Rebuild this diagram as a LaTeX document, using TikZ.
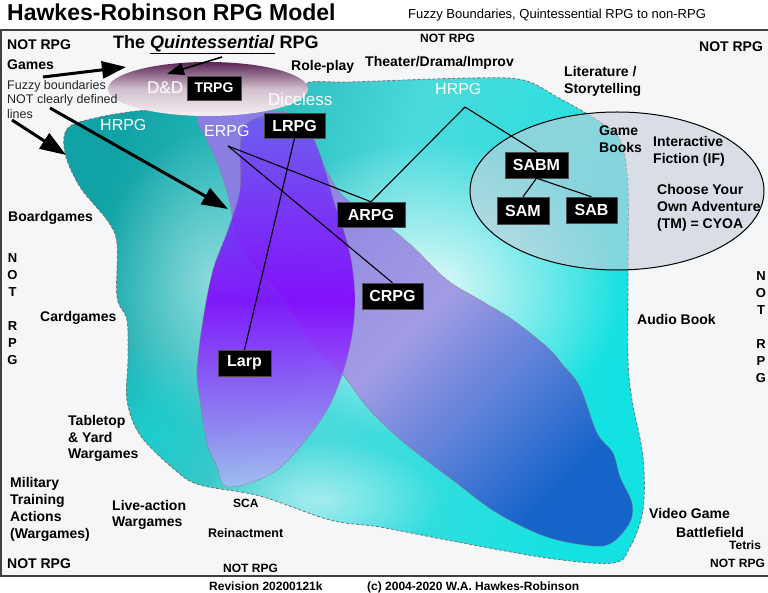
\documentclass[tikz,border=0pt]{standalone}
\usepackage{fontspec}
\setmainfont{Liberation Sans}
\usetikzlibrary{arrows.meta,fadings}
\tikzfading[name=softspot, inner color=transparent!0, outer color=transparent!100]
\newcommand\myfs[1]{\fontsize{#1}{#1}\selectfont}
\definecolor{bgc}{HTML}{F5F6F8}
\definecolor{cyL}{HTML}{10A2A4}
\definecolor{cyM}{HTML}{4CDADC}
\definecolor{cyR}{HTML}{12E2E2}
\definecolor{aT}{HTML}{8A7EE2}
\definecolor{aM}{HTML}{A29CE4}
\definecolor{aB}{HTML}{1464CA}
\definecolor{lT}{HTML}{6A5CF0}
\definecolor{lM}{HTML}{8000FF}
\definecolor{lB}{HTML}{A9BDF2}
\definecolor{dd1}{HTML}{5A2454}
\definecolor{dd2}{HTML}{D2C0CE}
\definecolor{dd3}{HTML}{F4F1F2}
\definecolor{ifc}{HTML}{C7CFDB}
\begin{document}
\begin{tikzpicture}[x=1pt,y=-1pt,
  lbl/.style={anchor=base west, inner sep=0pt, font=\bfseries\myfs{14}},
  slbl/.style={anchor=base west, inner sep=0pt, font=\bfseries\myfs{12}},
  mlbl/.style={anchor=west, align=left, inner sep=0pt, font=\bfseries\fontsize{14}{17}\selectfont},
  wlbl/.style={anchor=base west, inner sep=0pt, text=white, font=\myfs{16}},
  box/.style={fill=black, draw=black!70, text=white, inner sep=0pt, font=\bfseries\myfs{16}},
  conn/.style={black, line width=1.1pt},
  bigarrow/.style={line width=3pt, -{Triangle[length=26pt,width=18pt]}},
  vert/.style={align=center, inner sep=0pt, font=\bfseries\fontsize{13}{17}\selectfont}
]
\useasboundingbox (0,0) rectangle (768,593);
\fill[white] (0,0) rectangle (768,593);
% frame
\fill[bgc] (1,30) rectangle (768,576);
\draw[black!75, line width=1.6pt] (768,30) -- (1,30) -- (1,576) -- (768,576);

% big cyan blob (HRPG)
\def\cyanblob{plot[smooth cycle, tension=0.55] coordinates {
  (68,128) (100,117) (150,110) (183,115) (250,113) (290,103) (307,83) (350,82)
  (470,78) (523,80) (557,97) (597,120) (620,140) (628,187) (628,280) (628,360)
  (632,400) (643,457) (643,510) (630,547) (613,563) (547,558) (447,540) (380,527)
  (330,520) (260,496) (200,485) (175,470) (140,435) (127,400) (128,360) (127,320)
  (117,297) (117,243) (107,220) (80,187) (65,153)}}
\path[top color=cyL, bottom color=cyR, middle color=cyM, shading angle=72] \cyanblob;
\begin{scope}
  \clip \cyanblob;
  \fill[white, fill opacity=0.85, path fading=softspot] (430,290) ellipse [x radius=190pt, y radius=150pt];
  \fill[white, fill opacity=0.45, path fading=softspot] (210,280) ellipse [x radius=110pt, y radius=150pt];
  \fill[white, fill opacity=0.5, path fading=softspot] (320,500) ellipse [x radius=120pt, y radius=60pt];
  \fill[cyR, fill opacity=0.5, path fading=softspot] (150,430) ellipse [x radius=70pt, y radius=90pt];
\end{scope}
\draw[black!55, densely dashed, line width=0.8pt] \cyanblob;

% diagonal shape (ERPG / ARPG / CRPG / video games)
\path[draw=black!50, densely dotted, line width=0.7pt,
      top color=aT, bottom color=aB, middle color=aM, shading angle=45]
  plot[smooth cycle, tension=0.55] coordinates {
  (197,120) (207,108) (227,112) (260,110) (305,118) (317,150) (327,172) (345,198)
  (380,220) (413,247) (447,280) (480,300) (513,320) (547,347) (563,365) (580,387)
  (597,433) (613,453) (620,477) (632,503) (630,522) (613,542) (593,546) (547,537)
  (497,513) (450,478) (417,453) (393,433) (367,407) (343,375) (317,350) (280,293)
  (250,260) (235,230) (230,203) (220,170) (207,140)};

% larp shape
\path[draw=black!50, densely dotted, line width=0.7pt, fill opacity=0.88,
      top color=lT, bottom color=lB, middle color=lM]
  plot[smooth cycle, tension=0.55] coordinates {
  (245,125) (270,115) (300,120) (315,142) (325,170) (335,205) (345,235) (352,265)
  (355,300) (352,335) (343,372) (327,410) (300,447) (277,470) (250,483) (225,486)
  (217,467) (207,443) (200,400) (197,370) (203,320) (213,270) (228,230) (240,190)
  (240,150)};

% D&D ellipse
\path[top color=dd1, bottom color=dd3, middle color=dd2]
  (208,89) ellipse [x radius=100pt, y radius=27pt];

% IF / CYOA ellipse
\draw[fill=ifc, fill opacity=0.6, line width=1pt] (617,191) ellipse [x radius=147pt, y radius=79pt];

% title texts
\node[anchor=base west, inner sep=0pt, font=\bfseries\myfs{23}] (title) at (7,21) {Hawkes-Robinson RPG Model};
\node[anchor=base west, inner sep=0pt, font=\myfs{13}] (sub) at (408,18.5) {Fuzzy Boundaries, Quintessential RPG to non-RPG};
\node[anchor=base west, inner sep=0pt, font=\bfseries\myfs{18}] (quint) at (113,48.5) {The \underline{\textit{Quintessential}} RPG};

% black labels
\node[lbl] (nrTL) at (7,50) {NOT RPG};
\node[lbl] (games) at (7,70) {Games};
\node[anchor=west, align=left, inner sep=0pt, text=black!85, font=\fontsize{12.5}{14.5}\selectfont] (fuzzy) at (7,99.5) {Fuzzy boundaries\\NOT clearly defined\\lines};
\node[lbl] (role) at (291,71) {Role-play};
\node[lbl] (theater) at (365,67) {Theater/Drama/Improv};
\node[slbl] (nrTC) at (420,42.5) {NOT RPG};
\node[lbl] (nrTR) at (699,52) {NOT RPG};
\node[mlbl] (lit) at (564,81.5) {Literature /\\Storytelling};
\node[mlbl] (gb) at (599,139.5) {Game\\Books};
\node[mlbl] (ifl) at (653,151.5) {Interactive\\Fiction (IF)};
\node[mlbl] (cyoa) at (657,208) {Choose Your\\Own Adventure\\(TM) = CYOA};
\node[lbl] (board) at (8,222) {Boardgames};
\node[lbl] (card) at (40,322) {Cardgames};
\node[lbl] (audio) at (637,325) {Audio Book};
\node[anchor=west, align=left, inner sep=0pt, font=\bfseries\fontsize{14}{16.5}\selectfont] (table) at (68,438.5) {Tabletop\\\& Yard\\Wargames};
\node[mlbl] (mil) at (10,509.5) {Military\\Training\\Actions\\(Wargames)};
\node[anchor=west, align=left, inner sep=0pt, font=\bfseries\fontsize{14}{16.5}\selectfont] (live) at (112,515) {Live-action\\Wargames};
\node[slbl] (sca) at (233,507.5) {SCA};
\node[anchor=base west, inner sep=0pt, font=\bfseries\myfs{12.5}] (rein) at (208,537.5) {Reinactment};
\node[lbl] (nrBL) at (7,568) {NOT RPG};
\node[slbl] (nrBC) at (223,572.5) {NOT RPG};
\node[lbl] (video) at (649,518) {Video Game};
\node[lbl] (battle) at (676,537) {Battlefield};
\node[slbl] (tetris) at (729,549.5) {Tetris};
\node[slbl] (nrBR) at (710,567.5) {NOT RPG};
\node[slbl] (rev) at (209,590.5) {Revision 20200121k};
\node[slbl] (copy) at (367,590.5) {(c) 2004-2020 W.A. Hawkes-Robinson};
\node[vert] (vl) at (12.5,309) {N\\O\\T\\[17pt]R\\P\\G};
\node[vert] (vr) at (761,327.5) {N\\O\\T\\[17pt]R\\P\\G};

% white labels
\node[wlbl, font=\myfs{17}] (dnd) at (147,93.5) {D\&D};
\node[wlbl] (hrpgL) at (100,131) {HRPG};
\node[wlbl] (erpg) at (204,137) {ERPG};
\node[wlbl, font=\myfs{17}] (dice) at (268,106) {Diceless};
\node[wlbl] (hrpgR) at (435,95) {HRPG};

% boxes
\node[box, font=\bfseries\myfs{14}, minimum width=54pt, minimum height=24pt] (TRPG) at (214,88) {TRPG};
\node[box, minimum width=61pt, minimum height=25pt] (LRPG) at (294.5,125.5) {LRPG};
\node[box, minimum width=68pt, minimum height=25pt] (ARPG) at (371,214.5) {ARPG};
\node[box, minimum width=61pt, minimum height=26pt] (CRPG) at (392.5,296) {CRPG};
\node[box, minimum width=53pt, minimum height=26pt] (Larp) at (244.5,363) {Larp};
\node[box, minimum width=63pt, minimum height=26pt] (SABM) at (536.5,165) {SABM};
\node[box, minimum width=52pt, minimum height=27pt] (SAM) at (523,210.5) {SAM};
\node[box, minimum width=51pt, minimum height=26pt] (SAB) at (591.5,210) {SAB};

% connectors
\coordinate (erpgpt) at (228,146);
\coordinate (hrpgpt) at (465,107);
\draw[conn] (erpgpt) -- (ARPG.north);
\draw[conn] (erpgpt) -- (CRPG.north);
\draw[conn] (hrpgpt) -- (ARPG.north);
\draw[conn] (hrpgpt) -- (SABM.north);
\draw[conn] (SABM.south) -- (SAM.north);
\draw[conn] (SABM.south) -- (SAB.north);
\draw[conn] (LRPG.south) -- (Larp.north);

% arrows
\coordinate (a1s) at (43,77);   \coordinate (a1e) at (126,67);
\coordinate (a2s) at (222,57);  \coordinate (a2e) at (167,74);
\coordinate (a3s) at (12,120);  \coordinate (a3e) at (66,155);
\coordinate (a4s) at (50,108);  \coordinate (a4e) at (228,209);
\draw[line width=3pt, -{Triangle[length=24pt,width=17pt]}] (a1s) -- (a1e);
\draw[line width=1.6pt, -{Triangle[length=17pt,width=12pt]}] (a2s) -- (a2e);
\draw[bigarrow] (a3s) -- (a3e);
\draw[bigarrow] (a4s) -- (a4e);
\end{tikzpicture}
\end{document}
